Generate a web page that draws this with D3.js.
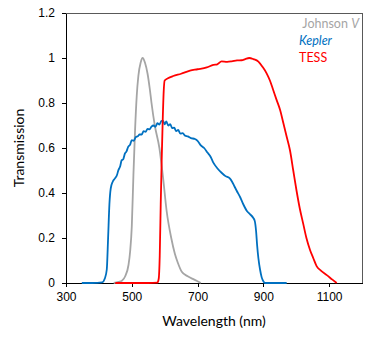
<!DOCTYPE html>
<meta charset="utf-8">
<style>
body { margin: 0; background: #fff; }
svg { font-family: Lato, "Liberation Sans", sans-serif; }
.axis path, .axis line { stroke: #000; shape-rendering: crispEdges; }
.axis text { font-size: 12px; fill: #000; }
.frame { fill: none; stroke: #595959; stroke-width: 1px; shape-rendering: crispEdges; }
.curve { fill: none; stroke-width: 1.8px; stroke-linejoin: round; }
</style>
<body>
<svg width="390" height="338"></svg>
<script src="https://d3js.org/d3.v7.min.js"></script>
<script>
// wavelength (nm) / transmission pairs
var johnsonV = [[445,0],[460,0.005],[470,0.01],[480,0.03],[490,0.08],[495,0.14],[500,0.25],[505,0.48],[510,0.68],[515,0.83],[520,0.92],[527,0.98],[533,1.0],[540,0.98],[548,0.93],[555,0.86],[560,0.8],[570,0.7],[584,0.6],[595,0.47],[606,0.32],[620,0.2],[631,0.13],[640,0.09],[652,0.05],[670,0.03],[690,0.015],[710,0]];

var kepler = [[348,0],[380,0],[410,0.003],[418,0.02],[424,0.06],[428,0.2],[432,0.35],[436,0.42],[442,0.45],[449,0.465],[455,0.48],[459,0.5],[465,0.52],[469,0.545],[474,0.55],[479,0.575],[484,0.585],[489,0.605],[495,0.615],[500,0.635],[506,0.632],[512,0.648],[518,0.652],[524,0.66],[530,0.66],[536,0.675],[542,0.672],[548,0.685],[554,0.683],[560,0.695],[566,0.7],[572,0.694],[578,0.71],[584,0.704],[590,0.72],[595,0.722],[600,0.705],[605,0.718],[611,0.7],[617,0.706],[623,0.688],[629,0.69],[635,0.675],[641,0.68],[648,0.664],[655,0.666],[662,0.655],[670,0.652],[680,0.644],[692,0.64],[700,0.632],[710,0.612],[720,0.6],[730,0.58],[740,0.56],[748,0.535],[760,0.51],[773,0.49],[785,0.475],[798,0.465],[805,0.45],[812,0.43],[819,0.41],[830,0.38],[839,0.35],[850,0.32],[860,0.305],[869,0.29],[874,0.275],[878,0.23],[881,0.17],[885,0.11],[890,0.06],[895,0.025],[900,0.008],[905,0],[940,0],[971,0]];

var tess = [[450,0],[500,0],[550,0],[578,0.002],[582,0.02],[585,0.12],[588,0.35],[591,0.55],[594,0.72],[597,0.85],[600,0.9],[610,0.91],[626,0.92],[650,0.93],[677,0.944],[700,0.95],[728,0.958],[748,0.969],[760,0.972],[773,0.985],[790,0.983],[804,0.985],[820,0.989],[834,0.99],[845,0.995],[857,1.0],[870,0.995],[885,0.984],[898,0.96],[910,0.932],[920,0.9],[930,0.858],[940,0.815],[951,0.769],[961,0.71],[971,0.65],[981,0.59],[991,0.5],[1001,0.41],[1011,0.33],[1021,0.265],[1031,0.2],[1042,0.147],[1052,0.11],[1062,0.075],[1075,0.055],[1093,0.035],[1110,0.015],[1123,0]];

var xTicks = [300, 500, 700, 900, 1100];
var yTicks = [0, 0.2, 0.4, 0.6, 0.8, 1, 1.2];

var seriesNames = ["Johnson V", "Kepler", "TESS"];
var seriesColors = ["#A5A5A5", "#0070C0", "#FF0000"];

var svg = d3.select("svg"),
    margin = {top: 13, right: 28, bottom: 55, left: 66},
    width = +svg.attr("width") - margin.left - margin.right,
    height = +svg.attr("height") - margin.top - margin.bottom;

var x = d3.scaleLinear().domain([300, 1200]).range([0, width]);
var y = d3.scaleLinear().domain([0, 1.2]).range([height, 0]);

var g = svg.append("g")
    .attr("transform", "translate(" + margin.left + "," + margin.top + ")");

// plot frame (top and right)
g.append("rect")
    .attr("class", "frame")
    .attr("x", 0.5).attr("y", 0.5)
    .attr("width", width).attr("height", height);

g.append("g")
    .attr("class", "x axis")
    .attr("transform", "translate(0," + height + ")")
    .call(d3.axisBottom(x).tickValues(xTicks).tickSizeInner(4).tickSizeOuter(0).tickPadding(5).tickFormat(d3.format("d")));

g.append("g")
    .attr("class", "y axis")
    .call(d3.axisLeft(y).tickValues(yTicks).tickSizeInner(4).tickSizeOuter(0).tickPadding(7).tickFormat(function(d) { return String(+d.toFixed(1)); }));

var line = d3.line()
    .x(function(d) { return x(d[0]); })
    .y(function(d) { return y(d[1]); })
    .curve(d3.curveMonotoneX);

[johnsonV, kepler, tess].forEach(function(s, i) {
  g.append("path")
      .datum(s)
      .attr("class", "curve")
      .attr("stroke", seriesColors[i])
      .attr("d", line);
});

// legend
var leg = g.append("g").attr("font-size", "12.5px");
var jv = leg.append("text").attr("x", width - 3).attr("y", 15).attr("text-anchor", "end").attr("fill", "#A5A5A5");
jv.append("tspan").text("Johnson ");
jv.append("tspan").attr("font-style", "italic").text("V");
leg.append("text").attr("x", 233).attr("y", 32).attr("fill", "#0070C0").attr("font-style", "italic").text(seriesNames[1]);
leg.append("text").attr("x", 233).attr("y", 49).attr("fill", "#FF0000").text(seriesNames[2]);

// axis titles
svg.append("text")
    .attr("x", margin.left + width / 2).attr("y", 326)
    .attr("text-anchor", "middle").attr("font-size", "14px")
    .text("Wavelength (nm)");

svg.append("text")
    .attr("transform", "translate(24," + (margin.top + height / 2) + ") rotate(-90)")
    .attr("text-anchor", "middle").attr("font-size", "14px")
    .text("Transmission");
</script>
</body>
